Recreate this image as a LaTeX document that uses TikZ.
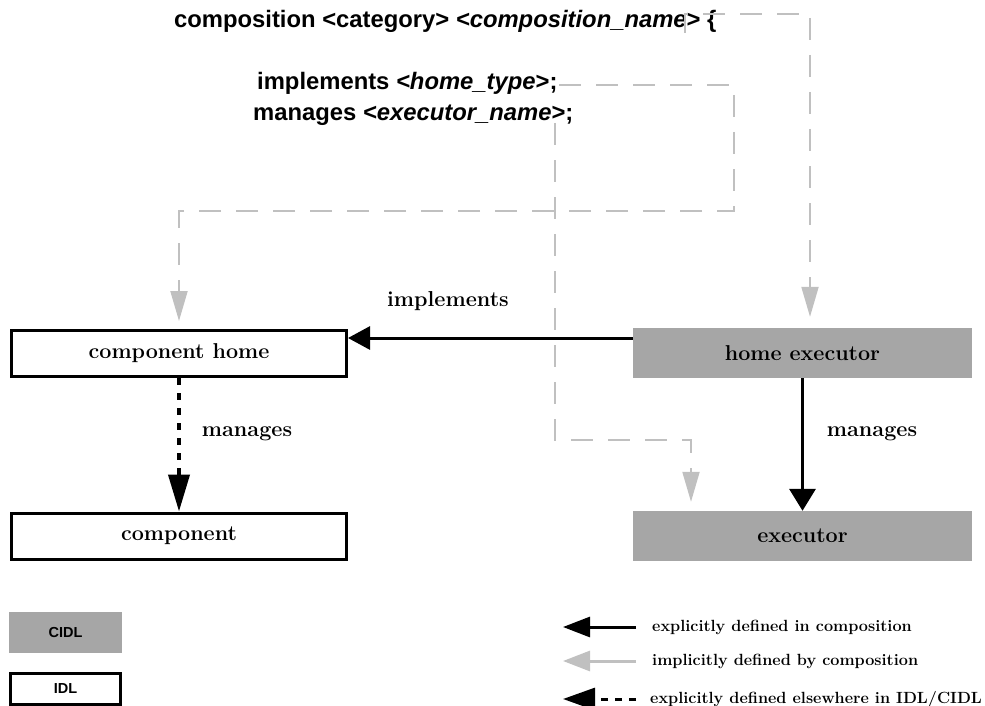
\documentclass[tikz,border=0pt]{standalone}
\usepackage{fontspec}
\newfontfamily\sansb{Liberation Sans}
\usetikzlibrary{arrows.meta}
\definecolor{boxgray}{HTML}{A6A6A6}
\definecolor{lgray}{HTML}{C0C0C0}
\begin{document}
\begin{tikzpicture}[x=1pt,y=-1pt,
  idlbox/.style={draw=black,line width=3pt,minimum width=335pt,minimum height=46pt,inner sep=0pt,font=\fontsize{21.5}{24}\selectfont\bfseries},
  cidlbox/.style={fill=boxgray,minimum width=339pt,minimum height=50pt,inner sep=0pt,font=\fontsize{21.5}{24}\selectfont\bfseries},
  codetext/.style={anchor=base west,inner sep=0pt,font=\sansb\bfseries\fontsize{23.8}{28}\selectfont},
  lbl/.style={inner sep=0pt,font=\fontsize{21.6}{24}\selectfont\bfseries},
  legtext/.style={anchor=west,inner sep=0pt,font=\fontsize{16.2}{19}\selectfont\bfseries},
  impl/.style={draw=lgray,line width=2pt,dash pattern=on 22pt off 15pt,-{Triangle[length=30pt,width=17pt]},lgray},
  expl/.style={draw=black,line width=3pt},
  legbox/.style={minimum width=113pt,inner sep=0pt,font=\sansb\bfseries\fontsize{14.5}{17}\selectfont}]
\useasboundingbox (0,0) rectangle (985,706);

% code text
\node[codetext] (title) at (174,28) {composition <category> \textit{<composition\_name}> \{};
\node[codetext] (impltext) at (257,90) {implements \textit{<home\_type}>;};
\node[codetext] (mantext) at (253,121) {manages \textit{<executor\_name}>;};

% boxes
\node[idlbox] (chome) at (179,353.5) {component home};
\node[idlbox] (comp) at (179,536) {component};
\node[cidlbox] (hexec) at (802.5,353) {home executor};
\node[cidlbox] (exec) at (802.5,536) {executor};

% implicit dashed connectors
\coordinate (a0) at (685,33);
\coordinate (a1) at (810,14);
\draw[impl,shorten >=11pt] (a0) |- (a1) -- (a1 |- hexec.north);

\coordinate (b0) at (559,85);
\coordinate (b1) at (734,211);
\coordinate (b2) at (179,211);
\draw[impl,shorten >=8pt] (b0) -| (b1) -- (b2) -- (b2 |- chome.north);

\coordinate (c0) at (555,123);
\coordinate (c1) at (691,440);
\draw[impl,shorten >=9pt] (c0) |- (c1) -- (c1 |- exec.north);

% explicit connectors
\draw[expl,-{Triangle[length=22pt,width=23pt]}] (hexec.west |- 0,338) -- (chome.east |- 0,338);
\node[lbl] (implbl) at (448,301) {implements};

\draw[draw=black,line width=4pt,dash pattern=on 7pt off 8pt,-{Triangle[length=37pt,width=21pt]}] (chome.south) -- (comp.north);
\node[lbl] (manl) at (247,434) {manages};

\draw[expl,line width=3.5pt,-{Triangle[length=22pt,width=26pt]}] (hexec.south) -- (exec.north);
\node[lbl] (manr) at (872,434) {manages};

% legend boxes
\node[legbox,fill=boxgray,minimum height=41pt] (cidl) at (65.5,632.5) {CIDL};
\node[legbox,draw=black,line width=3pt,minimum width=110pt,minimum height=31pt] (idl) at (65.5,689) {IDL};

% legend arrows
\coordinate (l1s) at (636,627); \coordinate (l1e) at (563,627);
\coordinate (l2s) at (636,661); \coordinate (l2e) at (563,661);
\coordinate (l3s) at (636,699); \coordinate (l3e) at (563,699);
\draw[expl,-{Triangle[length=27pt,width=20pt]}] (l1s) -- (l1e);
\draw[draw=lgray,line width=3pt,-{Triangle[length=27pt,width=20pt]},lgray] (l2s) -- (l2e);
\draw[draw=black,line width=3pt,dash pattern=on 7pt off 7pt,-{Triangle[length=32pt,width=22pt]}] (l3s) -- (l3e);
\node[legtext] (t1) at (652,627) {explicitly defined in composition};
\node[legtext] (t2) at (652,661) {implicitly defined by composition};
\node[legtext] (t3) at (650,699) {explicitly defined elsewhere in IDL/CIDL};
\end{tikzpicture}
\end{document}
